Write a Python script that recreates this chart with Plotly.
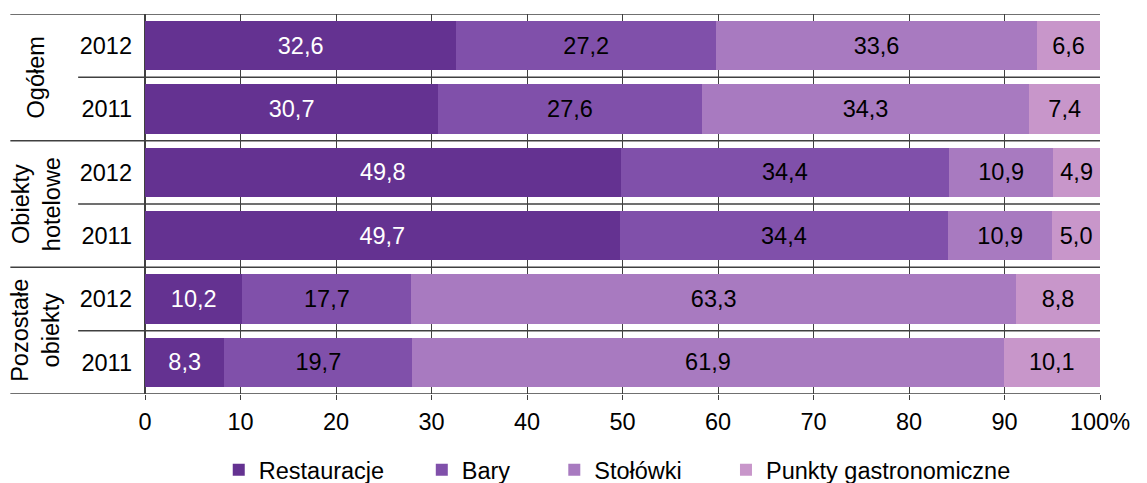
import plotly.graph_objects as go

groups = ["Ogółem", "Obiekty<br>hotelowe", "Pozostałe<br>obiekty"]
years = ["2012", "2011", "2012", "2011", "2012", "2011"]
series_names = ["Restauracje", "Bary", "Stołówki", "Punkty gastronomiczne"]
restauracje = [32.6, 30.7, 49.8, 49.7, 10.2, 8.3]
bary = [27.2, 27.6, 34.4, 34.4, 17.7, 19.7]
stolowki = [33.6, 34.3, 10.9, 10.9, 63.3, 61.9]
punkty = [6.6, 7.4, 4.9, 5.0, 8.8, 10.1]
x_ticks = [0, 10, 20, 30, 40, 50, 60, 70, 80, 90, 100]
x_ticktext = ["0", "10", "20", "30", "40", "50", "60", "70", "80", "90", "100%"]

colors = ["#643291", "#8050AA", "#A87AC0", "#C896CA"]
text_colors = ["white", "black", "black", "black"]
FONT = "Liberation Sans, Arial, sans-serif"
FS = 23.5
LINE = "#404040"

rows = list(range(len(years)))
fig = go.Figure()
NB = "\u00a0"
legend_pad = [5, 6, 6, 0]
for name, vals, col, tc, pad in zip(series_names, [restauracje, bary, stolowki, punkty], colors, text_colors, legend_pad):
    fig.add_trace(go.Bar(
        y=rows, x=vals, orientation="h", name=name + NB * pad,
        marker=dict(color=col, line=dict(width=0)),
        text=[f"{v:.1f}".replace(".", ",") for v in vals],
        textposition="inside", insidetextanchor="middle",
        textfont=dict(color=tc, size=FS, family=FONT),
        constraintext="none",
        hoverinfo="skip",
    ))

# separator lines
for i in range(len(years) + 1):
    b = i - 0.5
    is_group = (i % 2 == 0)
    fig.add_shape(type="line", xref="paper", yref="y",
                  x0=-0.141 if is_group else -0.07, x1=1, y0=b, y1=b,
                  line=dict(color=LINE, width=1.5), layer="below")

# group labels
for gi, g in enumerate(groups):
    fig.add_annotation(xref="paper", yref="y", x=-0.114, y=gi * 2 + 0.5,
                       text=g, textangle=-90, showarrow=False,
                       font=dict(size=FS, family=FONT, color="black"),
                       xanchor="center", yanchor="middle")

fig.update_layout(
    barmode="stack", bargap=0.22,
    width=1147, height=483,
    margin=dict(l=145, r=47, t=14, b=89, autoexpand=False),
    plot_bgcolor="white", paper_bgcolor="white",
    font=dict(family=FONT, size=FS, color="black"),
    showlegend=True,
    legend=dict(orientation="h", x=0.4945, xanchor="center", y=-0.2, yanchor="middle",
                font=dict(size=FS, family=FONT), traceorder="normal",
                itemwidth=30, itemclick=False),
    xaxis=dict(range=[0, 100], tickvals=x_ticks, ticktext=x_ticktext,
               showgrid=True, gridcolor=LINE, gridwidth=1,
               zeroline=True, zerolinecolor=LINE, zerolinewidth=1.5,
               ticks="outside", ticklen=5, tickcolor=LINE,
               ticklabelstandoff=2, showline=False, fixedrange=True),
    yaxis=dict(range=[len(years) - 0.5, -0.5], tickvals=rows, ticktext=years,
               showgrid=False, zeroline=False, ticks="", ticklabelstandoff=12,
               showline=False, fixedrange=True),
)

fig.write_html("out.html", config={"displayModeBar": False},
               post_script="document.body.style.margin='0';document.body.style.overflow='hidden';")
